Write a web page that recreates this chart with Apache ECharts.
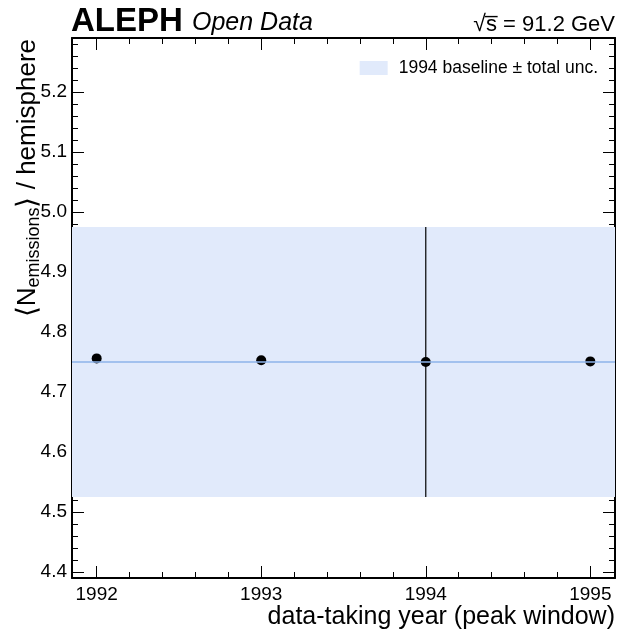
<!DOCTYPE html>
<html>
<head>
<meta charset="utf-8">
<script src="https://cdn.jsdelivr.net/npm/echarts@6/dist/echarts.min.js"></script>
<style>
  html, body { margin: 0; padding: 0; background: #ffffff; }
  #chart { width: 619px; height: 633px; }
</style>
</head>
<body>
<div id="chart"></div>
<script>
// Mean number of emissions per hemisphere, per data-taking year
const years = [1992, 1993, 1994, 1995];
const meanEmissions = [4.756, 4.753, 4.750, 4.751];
const errLow = [0.004, 0.004, 0.225, 0.004];
const errHigh = [0.004, 0.004, 0.225, 0.004];

// 1994 reference value and its total uncertainty
const baseline = 4.75;
const baselineUnc = 0.225;
const bandLabel = '1994 baseline ± total unc.';

// Axis windows
const xRange = [1991.85, 1995.15];
const yRange = [4.39, 5.29];

const FONT = '"Liberation Sans", Arial, Helvetica, sans-serif';
const BAND_COLOR = '#e1eafb';
const LINE_COLOR = '#8db3ea';

const chart = echarts.init(document.getElementById('chart'), null, { renderer: 'canvas' });

const isMultiple = (v, step) => Math.abs(v / step - Math.round(v / step)) < 1e-6;

// One axis per side for major ticks, one for minor ticks; ticks point inward.
function makeAxis(pos, range, split, major, labelled, fmt) {
  return {
    type: 'value',
    position: pos,
    min: range[0],
    max: range[1],
    splitNumber: split,
    axisLine: { show: major, onZero: false, lineStyle: { color: '#000', width: 2 } },
    axisTick: { show: true, inside: true, length: major ? 12 : 6, lineStyle: { color: '#000', width: 1 } },
    axisLabel: {
      show: labelled,
      color: '#000',
      fontFamily: FONT,
      fontSize: 19,
      margin: pos === 'bottom' ? 7 : 5,
      formatter: fmt
    },
    minorTick: { show: false },
    splitLine: { show: false }
  };
}

const xFmt = v => (isMultiple(v, 1) ? String(Math.round(v)) : '');
const yFmt = v => (isMultiple(v, 0.1) ? v.toFixed(1) : '');

const option = {
  animation: false,
  backgroundColor: '#ffffff',
  grid: { left: 72, right: 4, top: 38, bottom: 55, containLabel: false },
  xAxis: [
    makeAxis('bottom', xRange, 3, true, true, xFmt),
    makeAxis('bottom', xRange, 16, false, false),
    makeAxis('top', xRange, 3, true, false),
    makeAxis('top', xRange, 16, false, false)
  ],
  yAxis: [
    makeAxis('left', yRange, 9, true, true, yFmt),
    makeAxis('left', yRange, 45, false, false),
    makeAxis('right', yRange, 9, true, false),
    makeAxis('right', yRange, 45, false, false)
  ],
  legend: {
    data: [{ name: bandLabel, icon: 'rect', itemStyle: { color: BAND_COLOR, borderWidth: 0 } }],
    right: 16,
    top: 54,
    itemWidth: 28,
    itemHeight: 14,
    itemGap: 10,
    selectedMode: false,
    textStyle: { fontFamily: FONT, fontSize: 17.5, color: '#000', padding: [0, 0, 0, 6] }
  },
  graphic: [
    {
      type: 'text', x: 71, y: 38, silent: true,
      style: { text: 'ALEPH', fill: '#000', fontFamily: FONT, fontWeight: 'bold', fontSize: 33, verticalAlign: 'bottom', align: 'left' }
    },
    {
      type: 'text', x: 192, y: 36, silent: true,
      style: { text: 'Open Data', fill: '#000', fontFamily: FONT, fontStyle: 'italic', fontSize: 25, verticalAlign: 'bottom', align: 'left' }
    },
    {
      type: 'text', x: 615, y: 36, silent: true,
      style: {
        text: '{r|\u221A}{t|s\u0305 = 91.2 GeV}',
        align: 'right',
        verticalAlign: 'bottom',
        rich: {
          r: { fill: '#000', fontFamily: FONT, fontSize: 23 },
          t: { fill: '#000', fontFamily: FONT, fontSize: 22 }
        }
      }
    },
    {
      type: 'text', x: 615, y: 617, silent: true,
      style: { text: 'data-taking year (peak window)', fill: '#000', fontFamily: FONT, fontSize: 25, verticalAlign: 'middle', align: 'right' }
    },
    {
      type: 'text', x: 28, y: 39, rotation: Math.PI / 2, silent: true,
      style: {
        text: '{b|\u27E8}{a|N}{s|emissions}{b|\u27E9}{a| / hemisphere}',
        align: 'right',
        verticalAlign: 'middle',
        rich: {
          a: { fill: '#000', fontFamily: FONT, fontSize: 26 },
          b: { fill: '#000', fontFamily: FONT, fontSize: 28, fontWeight: 'lighter' },
          s: { fill: '#000', fontFamily: FONT, fontSize: 18, padding: [12, 0, 0, 0] }
        }
      }
    }
  ],
  series: [
    {
      name: bandLabel,
      type: 'line',
      xAxisIndex: 0,
      yAxisIndex: 0,
      data: [],
      color: BAND_COLOR,
      silent: true,
      z: 1,
      markArea: {
        silent: true,
        itemStyle: { color: BAND_COLOR },
        data: [[{ yAxis: baseline - baselineUnc }, { yAxis: baseline + baselineUnc }]]
      },
      markLine: {
        silent: true,
        symbol: 'none',
        label: { show: false },
        lineStyle: { color: LINE_COLOR, width: 1.5, type: 'solid' },
        data: [{ yAxis: baseline }]
      }
    },
    {
      name: 'errors',
      type: 'custom',
      xAxisIndex: 0,
      yAxisIndex: 0,
      z: 3,
      silent: true,
      encode: { x: 0, y: [1, 2] },
      data: years.map((yr, i) => [yr, meanEmissions[i] - errLow[i], meanEmissions[i] + errHigh[i]]),
      renderItem: (params, api) => {
        const x = api.value(0);
        const lo = api.coord([x, api.value(1)]);
        const hi = api.coord([x, api.value(2)]);
        return {
          type: 'line',
          shape: { x1: lo[0], y1: lo[1], x2: hi[0], y2: hi[1] },
          style: { stroke: '#000', lineWidth: 1.2 }
        };
      }
    },
    {
      name: 'points',
      type: 'scatter',
      xAxisIndex: 0,
      yAxisIndex: 0,
      z: 4,
      silent: true,
      symbol: 'circle',
      symbolSize: 10,
      itemStyle: { color: '#000', opacity: 1 },
      data: years.map((yr, i) => [yr, meanEmissions[i]])
    }
  ]
};

chart.setOption(option);
</script>
</body>
</html>
